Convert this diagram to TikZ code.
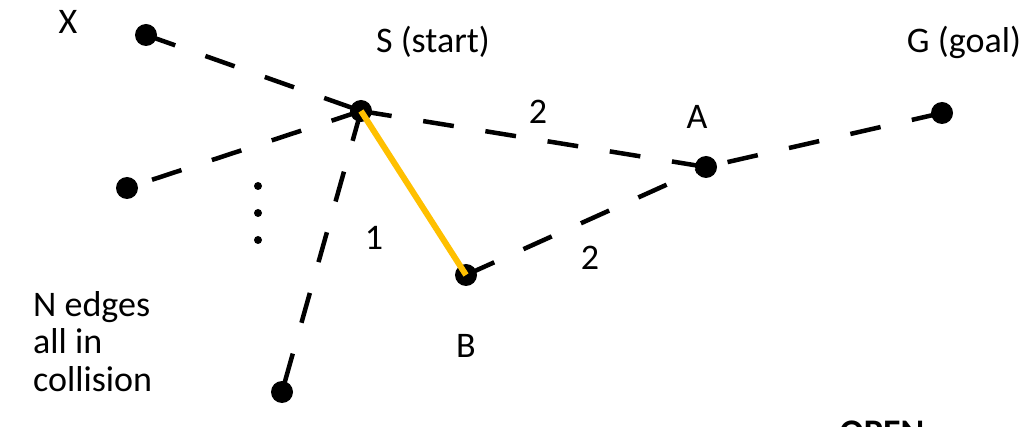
\documentclass[tikz,border=0pt]{standalone}
\usepackage{fontspec}
\setmainfont{Carlito}
\definecolor{pathgold}{RGB}{255,192,0}
\begin{document}
\begin{tikzpicture}[x=1pt,y=-1pt,
  bigdot/.style={circle,fill=black,minimum size=22pt,inner sep=0pt},
  smalldot/.style={circle,fill=black,minimum size=8pt,inner sep=0pt},
  edgeline/.style={line width=4.5pt,dash pattern=on 31pt off 32pt},
  solution/.style={line width=6pt,draw=pathgold},
  lbl/.style={font=\fontsize{36}{37}\selectfont,inner sep=0pt}]
\useasboundingbox[fill=white] (0,0) rectangle (1025,427);
% vertices
\node[bigdot] (X) at (146,35) {};
\node[bigdot] (S) at (361,111) {};
\node[bigdot] (G) at (942,113) {};
\node[bigdot] (A) at (706,167) {};
\node[bigdot] (B) at (466,275) {};
\node[bigdot] (L) at (127,188) {};
\node[bigdot] (D) at (282,392) {};
\node[smalldot] (d1) at (258,186) {};
\node[smalldot] (d2) at (258,213) {};
\node[smalldot] (d3) at (258,240) {};
% edges
\draw[edgeline] (X.center) -- (S.center);
\draw[edgeline] (S.center) -- (A.center);
\draw[edgeline] (S.center) -- (L.center);
\draw[edgeline] (S.center) -- (D.center);
\draw[edgeline] (B.center) -- (A.center);
\draw[edgeline] (G.center) -- (A.center);
\draw[solution] (S.center) -- (B.center);
% labels
\node[lbl] (lX) at (68,22) {X};
\node[lbl] (lS) at (433,42) {S (start)};
\node[lbl] (lG) at (964,42) {G (goal)};
\node[lbl] (lA) at (697,117) {A};
\node[lbl] (lB) at (466,346) {B};
\node[lbl] (w1) at (538,112) {2};
\node[lbl] (w2) at (374,238) {1};
\node[lbl] (w3) at (590,258) {2};
\node[lbl,anchor=base west] (n1) at (33,317) {N edges};
\node[lbl,anchor=base west] (n2) at (33,354) {all in};
\node[lbl,anchor=base west] (n3) at (33,391) {collision};
\node[lbl,font=\fontsize{36}{37}\selectfont\bfseries,anchor=base] (open) at (882,444) {OPEN};
\end{tikzpicture}
\end{document}
